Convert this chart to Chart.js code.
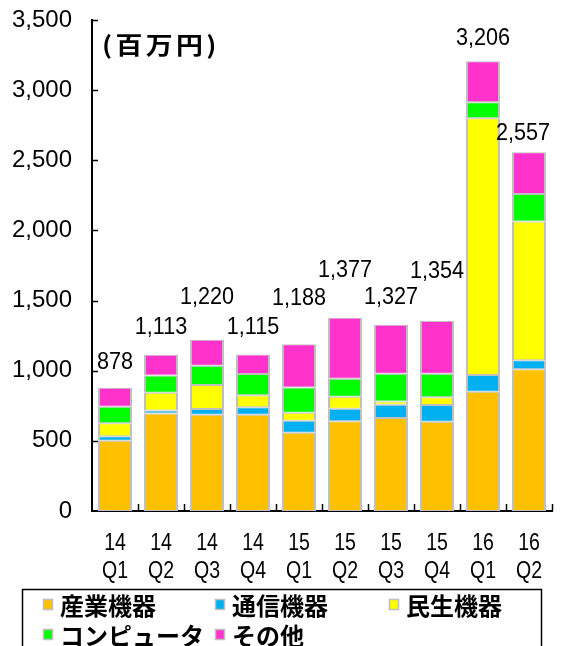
<!DOCTYPE html>
<html>
<head>
<meta charset="utf-8">
<script src="https://cdn.jsdelivr.net/npm/chart.js@4"></script>
<style>
  html, body { margin: 0; padding: 0; background: #fff; }
  #wrap { width: 562px; height: 646px; overflow: hidden; }
</style>
</head>
<body>
<div id="wrap"><canvas id="c" width="562" height="646"></canvas></div>
<script>
// Quarterly sales by product segment (million yen)
const years    = ['14', '14', '14', '14', '15', '15', '15', '15', '16', '16'];
const quarters = ['Q1', 'Q2', 'Q3', 'Q4', 'Q1', 'Q2', 'Q3', 'Q4', 'Q1', 'Q2'];

const industrial = [500, 695, 686, 686, 558, 639, 663, 637, 850, 1010];
const telecom    = [33, 22, 41, 53, 85, 90, 95, 119, 119, 64];
const consumer   = [92, 126, 171, 86, 58, 86, 22, 54, 1830, 990];
const computer   = [118, 123, 138, 151, 180, 128, 199, 169, 114, 196];
const other      = [135, 147, 184, 139, 307, 434, 348, 375, 293, 297];

const seriesNames = ['産業機器', '通信機器', '民生機器', 'コンピュータ', 'その他'];
const yTicks = [0, 500, 1000, 1500, 2000, 2500, 3000, 3500];
const unitLabel = '(百万円)';

const seriesColors = ['#FFC000', '#00B0F0', '#FFFF00', '#00FF00', '#FF33CC'];
const seriesValues = [industrial, telecom, consumer, computer, other];

// how far each total label sits above its bar (px), and small x nudges
const totalLift  = [25, 27, 42, 27, 46, 47, 27, 50, 23, 19];
const totalShift = [0, 0, 0, 0, 0, 0, 0, 0, 0, -6];

const SANS = "'Liberation Sans', Arial, sans-serif";
const CJK  = "'Noto Sans CJK JP', 'Noto Sans', sans-serif";

// draw text squeezed horizontally (a narrow-gothic look)
function narrowText(ctx, text, x, y, squeeze) {
  ctx.save();
  ctx.translate(x, y);
  ctx.scale(squeeze, 1);
  ctx.fillText(text, 0, 0);
  ctx.restore();
}

const decorations = {
  id: 'decorations',
  afterDatasetsDraw(chart) {
    const ctx = chart.ctx;
    const area = chart.chartArea;
    const x = chart.scales.x;
    const y = chart.scales.y;
    ctx.save();

    // inward tick marks
    ctx.strokeStyle = '#000';
    ctx.lineWidth = 1.5;
    yTicks.forEach(v => {
      if (v === 0) return;
      const py = Math.round(y.getPixelForValue(v)) + 0.5;
      ctx.beginPath();
      ctx.moveTo(area.left, py);
      ctx.lineTo(area.left + 6, py);
      ctx.stroke();
    });
    const step = (area.right - area.left) / years.length;
    for (let i = 1; i <= years.length; i++) {
      const px = Math.round(area.left + step * i) + 0.5;
      ctx.beginPath();
      ctx.moveTo(px, area.bottom);
      ctx.lineTo(px, area.bottom - 7);
      ctx.stroke();
    }

    // category labels, two lines
    ctx.fillStyle = '#000';
    ctx.font = '23px ' + SANS;
    ctx.textAlign = 'center';
    ctx.textBaseline = 'middle';
    years.forEach((yr, i) => {
      const px = x.getPixelForValue(i);
      narrowText(ctx, yr, px, area.bottom + 33, 0.85);
      narrowText(ctx, quarters[i], px, area.bottom + 61, 0.85);
    });

    // unit caption
    ctx.font = 'bold 24px ' + CJK;
    ctx.textAlign = 'left';
    ctx.letterSpacing = '3px';
    narrowText(ctx, unitLabel, area.left + 10, area.top + 25, 1.12);
    ctx.letterSpacing = '0px';

    // totals above bars
    ctx.font = '24px ' + SANS;
    ctx.textAlign = 'center';
    years.forEach((_, i) => {
      const total = seriesValues.reduce((s, arr) => s + arr[i], 0);
      const px = x.getPixelForValue(i) + totalShift[i];
      const py = y.getPixelForValue(total) - totalLift[i];
      narrowText(ctx, total.toLocaleString('en-US'), px, py, 0.9);
    });

    // legend box
    ctx.lineWidth = 1.5;
    ctx.strokeStyle = '#000';
    ctx.strokeRect(22.5, 589.5, 519, 80);
    const colX = [43, 215, 389];
    const rowY = [605, 635];
    ctx.font = 'bold 24px ' + CJK;
    ctx.textAlign = 'left';
    seriesNames.forEach((name, i) => {
      const cx = colX[i % 3];
      const cy = rowY[Math.floor(i / 3)];
      ctx.fillStyle = seriesColors[i];
      ctx.fillRect(cx, cy - 6, 10, 11);
      ctx.strokeStyle = '#BFBFBF';
      ctx.lineWidth = 1.5;
      ctx.strokeRect(cx + 0.5, cy - 5.5, 9, 10);
      ctx.fillStyle = '#000';
      ctx.fillText(name, cx + 17, cy + 1);
    });
    ctx.restore();
  }
};

new Chart(document.getElementById('c'), {
  type: 'bar',
  data: {
    labels: years.map((yr, i) => yr + ' ' + quarters[i]),
    datasets: seriesNames.map((name, i) => ({
      label: name,
      data: seriesValues[i],
      backgroundColor: seriesColors[i],
      borderColor: '#BFBFBF',
      borderWidth: { left: 2, right: 2, top: 1, bottom: 1 },
      borderSkipped: false,
      barPercentage: 0.74,
      categoryPercentage: 1.0
    }))
  },
  options: {
    responsive: false,
    devicePixelRatio: 1,
    animation: false,
    layout: { padding: { top: 20, right: 10, left: 0, bottom: 0 } },
    plugins: {
      legend: { display: false },
      tooltip: { enabled: false },
      title: { display: false }
    },
    scales: {
      x: {
        stacked: true,
        grid: { display: false, drawTicks: false },
        border: { display: true, color: '#000', width: 2 },
        ticks: { display: false },
        afterFit(scale) { scale.height = 135; }
      },
      y: {
        stacked: true,
        min: 0,
        max: 3500,
        grid: { display: false, drawTicks: false },
        border: { display: true, color: '#000', width: 2 },
        afterBuildTicks(scale) { scale.ticks = yTicks.map(v => ({ value: v })); },
        ticks: {
          color: '#000',
          font: { family: SANS, size: 24 },
          padding: 20,
          callback: v => v.toLocaleString('en-US')
        },
        afterFit(scale) {
          scale.width = 92;
          scale.paddingTop = 0;
          scale.paddingBottom = 0;
        }
      }
    }
  },
  plugins: [decorations]
});
</script>
</body>
</html>
